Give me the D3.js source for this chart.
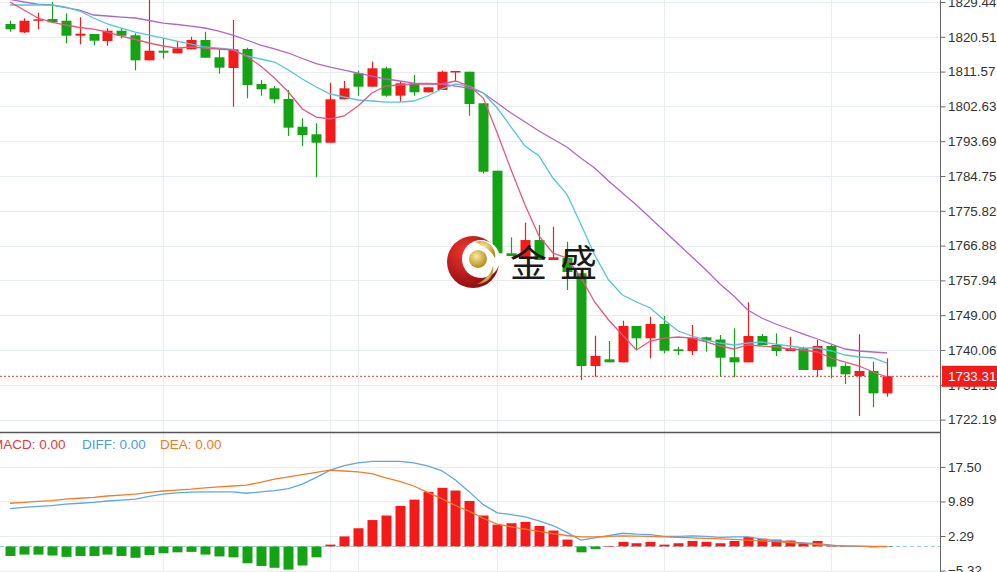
<!DOCTYPE html>
<html>
<head>
<meta charset="utf-8">
<script src="https://cdnjs.cloudflare.com/ajax/libs/d3/7.8.5/d3.min.js"></script>
<style>
body{margin:0;background:#fff;}
svg{display:block;font-family:"Liberation Sans",Arial,sans-serif;}
</style>
</head>
<body>
<div id="chart-area"></div>
<script>
// candles, oldest first
const opens = [1823.79,1821.65,1824.63,1825.07,1824.63,1820.78,1821.22,1819.42,1822.07,1820.88,
    1814.46,1816.93,1816.26,1817.29,1819.68,1815.24,1812.49,1817.37,1808.38,1807.28,
    1804.53,1797.41,1795.46,1793.30,1804.45,1811.13,1807.69,1812.41,1805.38,1808.56,
    1806.25,1806.84,1811.38,1811.54,1803.43,1786.11,1764.90,1763.44,1768.31,1763.18,
    1763.69,1759.76,1735.95,1737.67,1736.90,1746.23,1743.07,1746.74,1740.24,1739.81,
    1743.32,1742.76,1738.19,1736.90,1743.66,1741.35,1739.81,1740.50,1734.93,1741.09,
    1735.95,1733.39,1734.67,1728.94];
const highs = [1824.63,1825.25,1826.69,1829.51,1826.53,1825.51,1821.22,1822.68,1822.68,1821.40,
    1830.50,1820.11,1819.24,1820.53,1821.81,1817.55,1824.82,1817.70,1809.41,1807.87,
    1806.84,1799.57,1798.29,1808.71,1809.15,1811.80,1814.11,1812.82,1809.15,1810.69,
    1807.53,1811.80,1811.72,1811.54,1803.43,1786.11,1769.01,1772.76,1772.17,1771.73,
    1767.88,1759.76,1743.74,1742.37,1747.59,1746.23,1748.61,1748.79,1740.91,1746.48,
    1743.48,1743.92,1745.64,1752.31,1744.17,1744.35,1743.48,1740.91,1742.63,1741.35,
    1736.65,1744.10,1737.06,1737.93];
const lows = [1821.81,1821.47,1822.43,1824.22,1818.83,1818.57,1818.32,1818.21,1820.11,1811.90,
    1814.46,1814.88,1816.26,1817.29,1815.13,1811.03,1802.55,1804.71,1805.38,1803.43,
    1795.03,1792.46,1784.42,1793.30,1804.45,1805.38,1807.69,1805.12,1803.83,1805.38,
    1806.25,1806.84,1808.97,1800.24,1785.44,1764.90,1764.20,1763.44,1763.18,1763.18,
    1755.47,1732.36,1733.20,1736.90,1736.90,1740.24,1737.93,1739.21,1738.78,1738.78,
    1739.63,1733.26,1733.05,1736.90,1741.35,1738.52,1739.81,1734.93,1733.20,1732.79,
    1731.33,1723.11,1725.35,1728.07];
const closes = [1822.43,1824.63,1824.99,1824.22,1820.78,1821.30,1819.50,1822.07,1820.78,1814.46,
    1816.93,1816.42,1817.55,1819.68,1815.13,1812.57,1817.29,1808.12,1807.02,1804.45,
    1797.16,1795.28,1793.30,1804.45,1807.28,1807.69,1812.41,1805.38,1808.56,1806.25,
    1807.53,1811.54,1811.72,1803.24,1785.85,1764.90,1764.20,1768.31,1763.18,1763.87,
    1760.09,1735.95,1738.52,1736.90,1746.23,1743.07,1746.74,1739.88,1739.81,1743.22,
    1742.45,1738.09,1736.90,1743.66,1741.35,1739.81,1740.50,1734.93,1741.09,1735.78,
    1733.82,1734.67,1728.94,1733.31];

// moving averages
const ma5 = [1829.44,1827.38,1825.33,1824.30,1823.53,1822.89,1822.50,1821.73,1820.70,1819.81,
    1818.91,1818.14,1817.62,1817.88,1817.62,1817.37,1817.11,1815.57,1813.00,1809.92,
    1806.32,1801.96,1799.90,1799.39,1800.16,1802.73,1806.07,1807.86,1808.12,1808.38,
    1808.38,1808.38,1809.15,1807.86,1804.78,1795.79,1786.29,1777.30,1769.34,1764.97,
    1763.69,1758.81,1752.39,1747.77,1743.92,1740.06,1742.37,1743.14,1743.40,1743.14,
    1742.12,1741.09,1740.32,1741.35,1741.09,1740.83,1740.32,1740.06,1739.55,1738.01,
    1736.98,1735.95,1734.41,1733.13];
const ma10 = [1828.67,1828.67,1828.67,1828.67,1828.15,1827.12,1825.33,1823.79,1822.76,1821.73,
    1820.96,1820.19,1819.42,1818.65,1817.88,1817.62,1817.24,1815.57,1814.80,1814.03,
    1811.97,1809.66,1807.61,1805.81,1805.04,1804.27,1804.01,1803.75,1803.75,1804.01,
    1805.30,1807.09,1808.38,1807.86,1806.07,1802.21,1797.33,1792.45,1789.89,1784.24,
    1780.13,1772.42,1764.46,1758.04,1754.19,1752.39,1750.85,1747.77,1744.94,1743.66,
    1742.63,1741.86,1741.35,1741.86,1742.12,1741.60,1741.09,1740.58,1740.58,1739.81,
    1738.78,1738.27,1738.01,1736.72];
const ma20 = [1830.10,1829.44,1828.92,1828.67,1828.02,1827.38,1826.10,1825.84,1825.58,1825.33,
    1824.69,1824.04,1823.66,1823.27,1822.76,1821.99,1820.96,1819.68,1818.39,1817.37,
    1816.34,1814.93,1813.64,1812.74,1811.97,1811.20,1810.43,1809.66,1809.15,1808.63,
    1808.51,1808.38,1807.86,1807.35,1806.07,1803.50,1800.93,1798.62,1796.31,1794.25,
    1792.20,1789.37,1786.80,1783.47,1780.38,1777.30,1773.96,1770.62,1767.29,1763.95,
    1760.61,1757.01,1753.93,1750.34,1748.28,1746.74,1745.46,1744.17,1742.89,1741.60,
    1740.32,1739.81,1739.55,1739.29];

// MACD panel
const macdBars = [-2.1,-1.8,-1.8,-2.0,-2.3,-2.1,-2.1,-1.8,-2.1,-2.5,
    -1.9,-1.5,-1.3,-1.2,-1.8,-2.2,-2.4,-3.7,-4.3,-4.7,
    -5.1,-4.2,-2.4,0.4,2.2,4.0,5.8,6.8,8.9,10.3,
    12.0,12.9,12.3,10.0,6.8,4.8,5.1,5.4,4.5,3.5,
    1.5,-1.3,-0.6,0.1,1.0,0.7,1.0,0.4,0.7,1.2,
    1.0,0.7,1.2,2.1,1.7,1.5,1.3,0.7,1.2,0.2,
    0.1,0.05,-0.2,-0.1];
const diff = [8.3,8.6,8.8,9.0,9.3,9.5,9.7,10.0,10.2,10.4,
    11.0,11.5,11.8,11.95,12.0,12.0,12.0,11.7,12.0,12.3,
    12.7,13.7,15.2,16.8,17.8,18.4,18.7,18.7,18.7,18.4,
    17.7,16.7,14.6,12.0,9.2,7.4,7.0,6.5,5.6,4.6,
    3.1,1.4,1.9,2.4,2.9,2.7,2.6,2.2,2.2,2.3,
    2.2,2.0,2.1,2.1,1.6,1.3,1.0,0.8,0.6,0.3,
    0.0,0.0,-0.05,-0.05];
const dea = [9.5,9.7,9.9,10.1,10.4,10.6,10.8,11.1,11.3,11.5,
    11.9,12.2,12.4,12.6,12.9,13.1,13.3,13.5,14.1,14.8,
    15.3,15.8,16.3,16.8,16.6,16.4,16.0,15.1,14.3,13.3,
    11.9,10.5,9.0,7.7,6.2,4.9,4.3,3.8,3.3,2.8,
    2.4,2.1,2.1,2.2,2.3,2.25,2.2,2.1,2.0,1.9,
    1.75,1.65,1.55,1.4,1.2,1.05,0.85,0.65,0.4,0.2,
    0.1,0.05,0.0,0.0];

const priceTicks = [1829.44,1820.51,1811.57,1802.63,1793.69,1784.75,1775.82,1766.88,1757.94,1749.00,1740.06,1731.13,1722.19];
const macdTicks = [17.50,9.89,2.29,-5.32];
const gridIdx = [11,23,25,35,47,59];   // candle index of vertical grid lines
const lastPrice = 1733.31;

const W = 997, H = 572;
const axisX = 940, splitY = 432;
const upColor = "#f51a1a", downColor = "#14a314";
const gridColor = "#e8edf2";

const svg = d3.select("#chart-area")
    .append("svg")
        .attr("width", W)
        .attr("height", H);

// scales
var x = d3.scaleLinear().domain([0, closes.length - 1]).range([10, 887]);
var y = d3.scaleLinear().domain([1722.19, 1829.44]).range([419.6, 2]);
var ym = d3.scaleLinear().domain([-5.32, 17.50]).range([570.6, 466.9]);

svg.append("clipPath").attr("id", "clipMain")
    .append("rect").attr("x", 0).attr("y", 0).attr("width", axisX).attr("height", splitY);
svg.append("clipPath").attr("id", "clipMacd")
    .append("rect").attr("x", 0).attr("y", splitY + 1).attr("width", axisX).attr("height", H - splitY);

// GRID
svg.append("g").selectAll("line").data(priceTicks).enter().append("line")
    .attr("x1", 0).attr("x2", axisX)
    .attr("y1", function(d){return Math.round(y(d)) + 0.5;})
    .attr("y2", function(d){return Math.round(y(d)) + 0.5;})
    .attr("stroke", gridColor);
svg.append("g").selectAll("line").data(macdTicks).enter().append("line")
    .attr("x1", 0).attr("x2", axisX)
    .attr("y1", function(d){return Math.round(ym(d)) + 0.5;})
    .attr("y2", function(d){return Math.round(ym(d)) + 0.5;})
    .attr("stroke", gridColor);
svg.append("g").selectAll("line").data(gridIdx).enter().append("line")
    .attr("x1", function(d){return Math.round(x(d)) + 0.5;})
    .attr("x2", function(d){return Math.round(x(d)) + 0.5;})
    .attr("y1", 0).attr("y2", H)
    .attr("stroke", gridColor);

// MAIN PANEL
const main = svg.append("g").attr("clip-path", "url(#clipMain)");

// current price dotted line
main.append("line")
    .attr("x1", 0).attr("x2", axisX)
    .attr("y1", y(lastPrice)).attr("y2", y(lastPrice))
    .attr("stroke", "#f0363c")
    .attr("stroke-width", 1)
    .attr("stroke-dasharray", "2,2");

const candles = main.append("g").selectAll("g").data(closes).enter().append("g");
candles.append("line")
    .attr("x1", function(d,i){return Math.round(x(i)) + 0.5;})
    .attr("x2", function(d,i){return Math.round(x(i)) + 0.5;})
    .attr("y1", function(d,i){return y(highs[i]);})
    .attr("y2", function(d,i){return y(lows[i]);})
    .attr("stroke", function(d,i){return d >= opens[i] ? upColor : downColor;})
    .attr("stroke-width", 1.2);
candles.append("rect")
    .attr("x", function(d,i){return Math.round(x(i)) - 4.5;})
    .attr("width", 10)
    .attr("y", function(d,i){return y(Math.max(d, opens[i]));})
    .attr("height", function(d,i){return Math.max(1.5, Math.abs(y(d) - y(opens[i])));})
    .attr("fill", function(d,i){return d >= opens[i] ? upColor : downColor;});

var priceLine = d3.line()
    .x(function(d,i){return x(i);})
    .y(function(d){return y(d);});
[[ma20, "#b066c6"], [ma10, "#52c6d6"], [ma5, "#e8557e"]].forEach(function(s){
    main.append("path")
        .attr("d", priceLine(s[0]))
        .attr("fill", "none")
        .attr("stroke", s[1])
        .attr("stroke-width", 1.3);
});

// MACD PANEL
const macd = svg.append("g").attr("clip-path", "url(#clipMacd)");
macd.append("line")
    .attr("x1", 0).attr("x2", axisX)
    .attr("y1", ym(0)).attr("y2", ym(0))
    .attr("stroke", "#9ccbe2")
    .attr("stroke-dasharray", "4,3");
macd.append("g").selectAll("rect").data(macdBars).enter().append("rect")
    .attr("x", function(d,i){return Math.round(x(i)) - 4.5;})
    .attr("width", 10)
    .attr("y", function(d){return ym(Math.max(0, d));})
    .attr("height", function(d){return Math.max(0.6, Math.abs(ym(d) - ym(0)));})
    .attr("fill", function(d){return d >= 0 ? upColor : downColor;});

var macdLine = d3.line()
    .x(function(d,i){return x(i);})
    .y(function(d){return ym(d);});
macd.append("path").attr("d", macdLine(diff))
    .attr("fill", "none").attr("stroke", "#5ea6e4").attr("stroke-width", 1.3);
macd.append("path").attr("d", macdLine(dea))
    .attr("fill", "none").attr("stroke", "#f27c2a").attr("stroke-width", 1.3);

// legend
const legend = svg.append("g").attr("font-size", "13.5px");
legend.append("text").attr("x", -8).attr("y", 449).attr("fill", "#e8383d").text("MACD: 0.00");
legend.append("text").attr("x", 82).attr("y", 449).attr("fill", "#4c9be0").text("DIFF: 0.00");
legend.append("text").attr("x", 160).attr("y", 449).attr("fill", "#f07a24").text("DEA: 0.00");

// separator
svg.append("line")
    .attr("x1", 0).attr("x2", axisX)
    .attr("y1", splitY + 0.5).attr("y2", splitY + 0.5)
    .attr("stroke", "#555").attr("stroke-width", 1.3);

// AXES
var yAxisCall = d3.axisRight(y)
    .tickValues(priceTicks)
    .tickFormat(d3.format(".2f"))
    .tickSize(5).tickPadding(2.5);
var mAxisCall = d3.axisRight(ym)
    .tickValues(macdTicks)
    .tickFormat(d3.format(".2f"))
    .tickSize(5).tickPadding(2.5);
[yAxisCall, mAxisCall].forEach(function(a){
    var ax = svg.append("g")
        .attr("transform", "translate(" + (axisX + 0.5) + ",0)")
        .call(a);
    ax.select(".domain").remove();
    ax.selectAll("line").attr("stroke", "#666");
    ax.selectAll("text").attr("font-size", "13.4px").attr("fill", "#333")
        .attr("font-family", "'Liberation Sans', Arial, sans-serif");
});
svg.append("line")
    .attr("x1", axisX + 0.5).attr("x2", axisX + 0.5)
    .attr("y1", 0).attr("y2", H)
    .attr("stroke", "#666");

// last price tag
svg.append("rect")
    .attr("x", axisX + 2).attr("y", y(lastPrice) - 10.5)
    .attr("width", W - axisX - 2).attr("height", 21)
    .attr("fill", "#f41a1a");
svg.append("text")
    .attr("x", axisX + 8).attr("y", y(lastPrice))
    .attr("dy", "0.36em")
    .attr("font-size", "13.4px")
    .attr("fill", "#fff")
    .text(d3.format(".2f")(lastPrice));

// WATERMARK
const defs = svg.append("defs");
var rg = defs.append("radialGradient").attr("id", "redG").attr("cx", "35%").attr("cy", "30%").attr("r", "75%");
rg.append("stop").attr("offset", "0%").attr("stop-color", "#f0352c");
rg.append("stop").attr("offset", "100%").attr("stop-color", "#8e0b10");
var gg = defs.append("radialGradient").attr("id", "goldG").attr("cx", "40%").attr("cy", "35%").attr("r", "65%");
gg.append("stop").attr("offset", "0%").attr("stop-color", "#fbeba0");
gg.append("stop").attr("offset", "100%").attr("stop-color", "#b48a1c");

const logo = svg.append("g").attr("transform", "translate(473,262)");
logo.append("circle").attr("r", 26).attr("fill", "url(#redG)");
logo.append("circle").attr("cx", 8).attr("cy", -3).attr("r", 19).attr("fill", "#fff");
logo.append("path")
    .attr("d", "M2,-20 C14,-24 24,-14 22,-4 C18,-12 10,-16 2,-20 Z")
    .attr("fill", "url(#goldG)");
logo.append("path")
    .attr("d", "M20,4 C22,14 14,22 4,22 C12,18 18,12 20,4 Z")
    .attr("fill", "url(#goldG)");
logo.append("circle").attr("cx", 5).attr("cy", -3).attr("r", 9).attr("fill", "url(#goldG)");

svg.append("text")
    .attr("x", 510).attr("y", 277)
    .attr("font-family", "'Noto Sans CJK SC', sans-serif")
    .attr("font-size", "37px")
    .attr("letter-spacing", "13px")
    .attr("fill", "#1a1a1a")
    .text("金盛");
</script>
</body>
</html>
